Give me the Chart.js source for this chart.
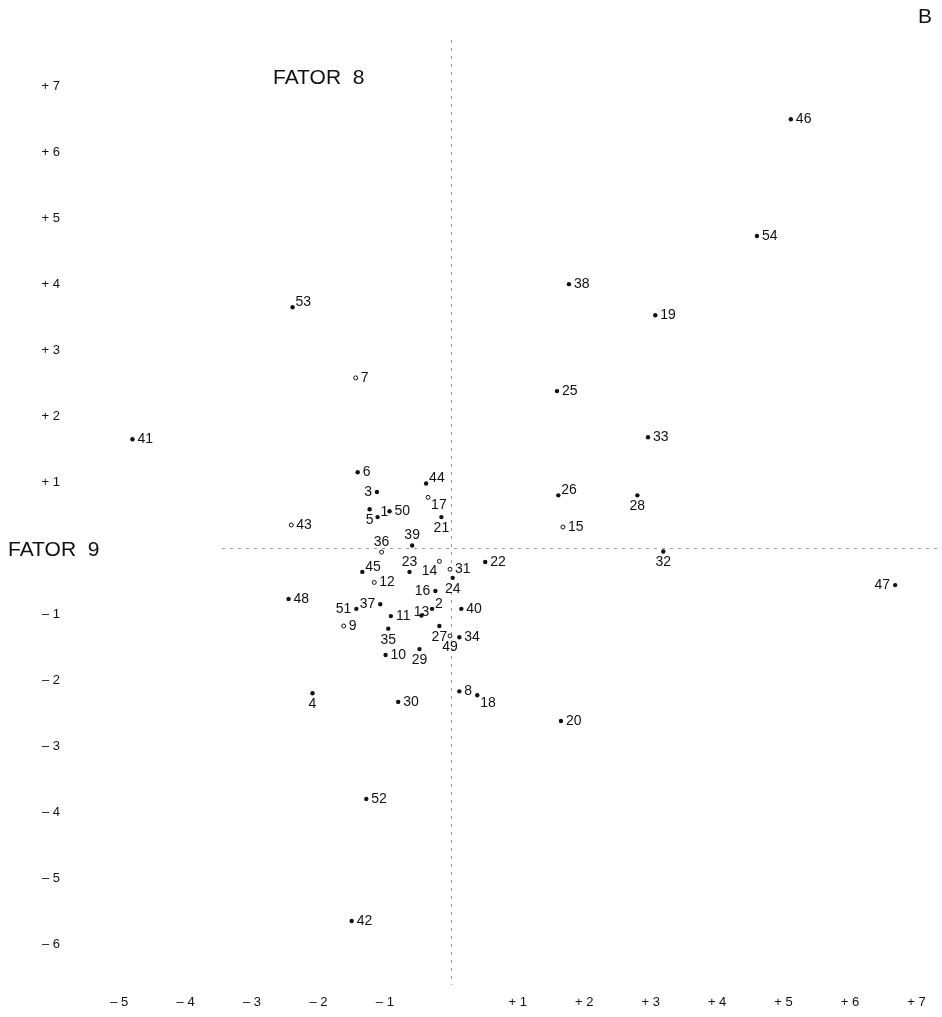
<!DOCTYPE html>
<html>
<head>
<meta charset="utf-8">
<script src="https://cdn.jsdelivr.net/npm/chart.js@4/dist/chart.umd.min.js"></script>
<style>
  body { margin: 0; background: #fff; }
  #wrap { width: 942px; height: 1017px; }
</style>
</head>
<body>
<div id="wrap"><canvas id="myChart" width="942" height="1017"></canvas></div>
<script>
// point numbers and their scores (x = FATOR 9, y = FATOR 8)
const ids = [1, 2, 3, 4, 5, 6, 7, 8, 9, 10,
  11, 12, 13, 14, 15, 16, 17, 18, 19, 20,
  21, 22, 23, 24, 25, 26, 27, 28, 29, 30,
  31, 32, 33, 34, 35, 36, 37, 38, 39, 40,
  41, 42, 43, 44, 45, 46, 47, 48, 49, 50,
  51, 52, 53, 54];
const xVals = [-1.11, -0.29, -1.12, -2.09, -1.23, -1.41, -1.44, 0.12, -1.62, -0.99,
  -0.91, -1.16, -0.45, -0.18, 1.68, -0.24, -0.35, 0.39, 3.07, 1.65,
  -0.15, 0.51, -0.63, 0.02, 1.59, 1.61, -0.18, 2.80, -0.48, -0.80,
  -0.02, 3.19, 2.96, 0.12, -0.95, -1.05, -1.07, 1.77, -0.59, 0.15,
  -4.80, -1.50, -2.41, -0.38, -1.34, 5.11, 6.68, -2.45, -0.02, -0.93,
  -1.43, -1.28, -2.39, 4.60];
const yVals = [0.47, -0.92, 0.85, -2.20, 0.59, 1.15, 2.58, -2.17, -1.18, -1.62,
  -1.03, -0.52, -1.02, -0.20, 0.32, -0.65, 0.77, -2.23, 3.53, -2.62,
  0.47, -0.21, -0.36, -0.45, 2.38, 0.80, -1.18, 0.80, -1.53, -2.33,
  -0.32, -0.05, 1.68, -1.35, -1.22, -0.06, -0.85, 4.00, 0.04, -0.92,
  1.65, -5.65, 0.35, 0.98, -0.36, 6.50, -0.56, -0.77, -1.33, 0.56,
  -0.92, -3.80, 3.65, 4.73];
// points drawn as open circles
const hollowIds = [7, 9, 12, 14, 15, 17, 31, 36, 43, 49];
const xTicks = [-5, -4, -3, -2, -1, 1, 2, 3, 4, 5, 6, 7];
const yTicks = [-6, -5, -4, -3, -2, -1, 1, 2, 3, 4, 5, 6, 7];

// where each number sits next to its dot (default right)
const labelSide = {
  1: 'ar', 2: 'ar', 3: 'l', 4: 'b', 5: 'b', 13: 'c', 14: 'bl', 16: 'l', 17: 'br', 18: 'br',
  21: 'b', 23: 'a', 24: 'b', 26: 'ar', 27: 'b', 28: 'b', 29: 'b', 32: 'b', 35: 'b',
  36: 'a', 37: 'l', 39: 'a', 44: 'ar', 45: 'ar', 47: 'l', 49: 'b', 51: 'l', 53: 'ar'
};

const solid = [], hollow = [];
ids.forEach((id, i) => {
  const p = { x: xVals[i], y: yVals[i], id: id };
  (hollowIds.includes(id) ? hollow : solid).push(p);
});

const FONT = '"Liberation Sans", "DejaVu Sans", sans-serif';

const pointLabels = {
  id: 'pointLabels',
  afterDatasetsDraw(chart) {
    const ctx = chart.ctx;
    const off = {
      r: [5, 0, 'left'], l: [-5, 0, 'right'], b: [0, 11, 'center'], a: [0, -10, 'center'],
      ar: [3, -5, 'left'], br: [3, 8, 'left'], bl: [-2, 10, 'right'], c: [0, -3, 'center']
    };
    ctx.save();
    ctx.font = '14px ' + FONT;
    ctx.fillStyle = '#111';
    ctx.textBaseline = 'middle';
    chart.data.datasets.forEach((ds, di) => {
      chart.getDatasetMeta(di).data.forEach((el, j) => {
        const id = ds.data[j].id;
        const o = off[labelSide[id] || 'r'];
        ctx.textAlign = o[2];
        ctx.fillText(String(id), el.x + o[0], el.y + o[1]);
      });
    });
    ctx.restore();
  },
  afterDraw(chart) {
    const ctx = chart.ctx;
    const ys = chart.scales.y;
    ctx.save();
    ctx.font = '21px ' + FONT;
    ctx.textBaseline = 'alphabetic';
    ctx.textAlign = 'left';
    const y0 = ys.getPixelForValue(0);
    // the zero line only starts well right of the axis title
    ctx.fillStyle = '#fff';
    ctx.fillRect(0, y0 - 18, 222, 26);
    ctx.fillStyle = '#111';
    ctx.fillText('FATOR  9', 8, y0 + 8);
    ctx.fillText('FATOR  8', 273, 84);
    ctx.fillText('B', 918, 23);
    ctx.restore();
  }
};

const ctx = document.getElementById('myChart');

new Chart(ctx, {
  type: 'scatter',
  data: {
    datasets: [
      { data: solid, pointRadius: 2.2, backgroundColor: '#111', borderColor: '#111', borderWidth: 0 },
      { data: hollow, pointRadius: 2, backgroundColor: '#fff', borderColor: '#111', borderWidth: 1 }
    ]
  },
  options: {
    responsive: false,
    animation: false,
    events: [],
    layout: { padding: { top: 40, right: 0, left: 0, bottom: 0 } },
    plugins: { legend: { display: false }, tooltip: { enabled: false } },
    scales: {
      x: {
        type: 'linear',
        min: -5.74, max: 7.31,
        afterBuildTicks: s => { s.ticks = [0].concat(xTicks).map(v => ({ value: v })); },
        afterFit: s => { s.height = 32; },
        border: { display: false, dash: [3, 5] },
        grid: {
          drawTicks: false,
          color: c => c.tick && c.tick.value === 0 ? '#999' : 'transparent'
        },
        ticks: {
          padding: 10,
          color: '#111',
          font: { family: FONT, size: 13 },
          callback: v => v > 0 ? '+ ' + v : v < 0 ? '– ' + (-v) : ''
        }
      },
      y: {
        type: 'linear',
        min: -6.62, max: 7.70,
        afterBuildTicks: s => { s.ticks = [0].concat(yTicks).map(v => ({ value: v })); },
        afterFit: s => { s.width = 70; },
        border: { display: false, dash: [3, 5] },
        grid: {
          drawTicks: false,
          color: c => c.tick && c.tick.value === 0 ? '#999' : 'transparent'
        },
        ticks: {
          padding: 10,
          color: '#111',
          font: { family: FONT, size: 13 },
          callback: v => v > 0 ? '+ ' + v : v < 0 ? '– ' + (-v) : ''
        }
      }
    }
  },
  plugins: [pointLabels]
});
</script>
</body>
</html>
